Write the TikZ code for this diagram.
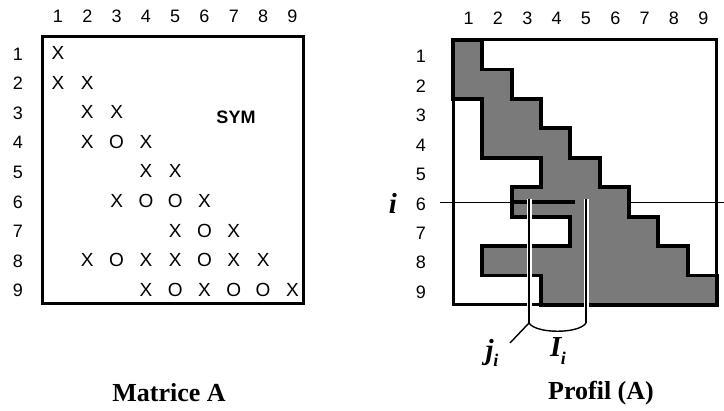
\documentclass[tikz,border=0pt]{standalone}
\usepackage{fontspec}
\setmainfont{Liberation Serif}
\newfontfamily\numfont{Liberation Sans}
\usetikzlibrary{positioning}

% bold italic letter with a lowered index i
\newcommand{\idxlab}[1]{#1\kern-0.5pt\raisebox{-0.55ex}{\fontsize{18}{18}\selectfont i}}

\tikzset{
	num/.style={font=\numfont\fontsize{18}{18}\selectfont, inner sep=0pt},
	entry/.style={font=\numfont\fontsize{19}{19}\selectfont, inner sep=0pt},
	caption/.style={font=\bfseries\fontsize{26}{28}\selectfont, inner sep=0pt},
	lab/.style={font=\bfseries\itshape\fontsize{29}{29}\selectfont, inner sep=0pt},
	frame/.style={draw=black, line width=3pt},
	profil/.style={fill=black!52, draw=black, line width=3.8pt, line join=miter},
	halo/.style={preaction={draw=white, line width=5pt}, draw=black, line width=1.4pt}
}

\begin{document}
\begin{tikzpicture}[x=1pt,y=-1pt]
	\useasboundingbox (0,0) rectangle (724,411);

	% ---- matrice A ----
	\draw[frame] (42,37) rectangle (303,304);
	\foreach \k in {1,...,9} {
		\node[num] (ac\k) at ({58+(\k-1)*29.3},16) {\k};
		\node[num] (ar\k) at (18,{54+(\k-1)*29.6}) {\k};
	}
	\foreach \r/\c/\s in {1/1/X, 2/1/X, 2/2/X, 3/2/X, 3/3/X, 4/2/X, 4/3/O, 4/4/X,
		5/4/X, 5/5/X, 6/3/X, 6/4/O, 6/5/O, 6/6/X, 7/5/X, 7/6/O, 7/7/X,
		8/2/X, 8/3/O, 8/4/X, 8/5/X, 8/6/O, 8/7/X, 8/8/X,
		9/4/X, 9/5/O, 9/6/X, 9/7/O, 9/8/O, 9/9/X}
		\node[entry] (a\r\c) at ({58+(\c-1)*29.3},{53+(\r-1)*29.6}) {\s};
	\node[num] (sym) at (236,117) {\bfseries SYM};
	\node[caption] (capA) at (169,393) {Matrice A};

	% ---- profil (A) ----
	\draw (440,202) -- (724,202);
	\foreach \k in {1,...,9} {
		\node[num] (pc\k) at ({454+(\k-0.5)*29.33},18) {\k};
		\node[num] (pr\k) at (421,{42+(\k-0.5)*29.44}) {\k};
	}
	\begin{scope}[shift={(453,40)}, x=29.33pt, y=-29.44pt]
		\draw[profil] (0,0) -- (1,0) -- (1,1) -- (2,1) -- (2,2) -- (3,2) -- (3,3)
			-- (4,3) -- (4,4) -- (5,4) -- (5,5) -- (6,5) -- (6,6) -- (7,6) -- (7,7)
			-- (8,7) -- (8,8) -- (9,8) -- (9,9) -- (3,9) -- (3,8) -- (1,8) -- (1,7)
			-- (4,7) -- (4,6) -- (2,6) -- (2,5) -- (3,5) -- (3,4) -- (1,4) -- (1,2)
			-- (0,2) -- cycle;
		\draw[frame] (0,0) rectangle (9,9);
	\end{scope}
	\draw[line width=4pt] (512,202) -- (575,202);
	\node[lab] (ilab) at (393,203) {i};

	% j_i and l_i
	\coordinate (jtop) at (529,199);
	\coordinate (jbot) at (529,323);
	\coordinate (ltop) at (586,199);
	\coordinate (lbot) at (586,323);
	\coordinate (jtip) at (510,343);
	\draw[halo] (jtop) -- (jbot);
	\draw[halo] (ltop) -- (lbot);
	\draw[line width=1.4pt] (jbot) .. controls (536,334) and (579,334) .. (lbot);
	\draw[line width=1.4pt] (jbot) -- (jtip);
	\node[lab] (ji) at (492,353) {\idxlab{j}};
	\node[lab] (li) at (558,351) {\idxlab{I}};
	\node[caption] (capP) at (601,393) {Profil (A)};
\end{tikzpicture}
\end{document}
